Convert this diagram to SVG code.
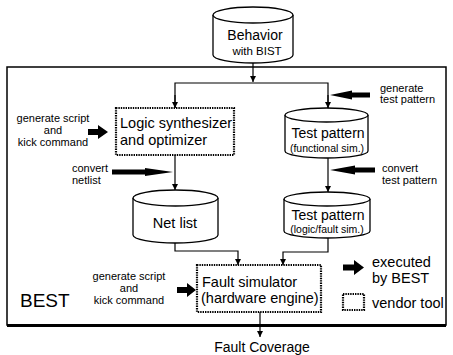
<svg xmlns="http://www.w3.org/2000/svg" width="453" height="355" viewBox="0 0 453 355">
<defs>
<style>
text{font-family:"Liberation Sans",Arial,sans-serif;fill:#000}
.cyl{fill:#fff;stroke:#000;stroke-width:1.3}
.vendor{fill:#fff;stroke:#000;stroke-width:2.2;stroke-dasharray:1.4 1}
.ln{fill:none;stroke:#000;stroke-width:1.2}
.fat{fill:#000;stroke:none}
.s11{font-size:11px}
.s14{font-size:14.5px}
</style>
<marker id="ah" markerWidth="6" markerHeight="8" refX="6" refY="4" orient="auto" markerUnits="userSpaceOnUse">
<path d="M0,1 L6,4 L0,7 Z" fill="#000"/>
</marker>
</defs>
<rect width="453" height="355" fill="#fff"/>

<g id="best-frame">
<rect x="7" y="67" width="439" height="258" fill="none" stroke="#000" stroke-width="1.5"/>
<line x1="7" y1="325.5" x2="446" y2="325.5" stroke="#000" stroke-width="3"/>
<text x="20" y="307" style="font-size:19px">BEST</text>
</g>

<g id="connectors">
<line class="ln" x1="253" y1="63" x2="253" y2="82" marker-end="url(#ah)"/>
<polyline class="ln" points="175,108 175,83 328,83 328,108"/>
<line class="ln" x1="175" y1="95" x2="175" y2="108" marker-end="url(#ah)"/>
<line class="ln" x1="328" y1="95" x2="328" y2="108" marker-end="url(#ah)"/>
<line class="ln" x1="175" y1="155" x2="175" y2="190" marker-end="url(#ah)"/>
<line class="ln" x1="328" y1="158" x2="328" y2="192" marker-end="url(#ah)"/>
<polyline class="ln" points="175,243 175,251 238,251 238,265" marker-end="url(#ah)"/>
<polyline class="ln" points="328,238 328,252 283,252 283,265" marker-end="url(#ah)"/>
<line class="ln" x1="260" y1="312" x2="260" y2="337" marker-end="url(#ah)"/>
</g>

<g id="behavior">
<path class="cyl" d="M213,15 L213,55 A40,8 0 0 0 293,55 L293,15"/>
<ellipse class="cyl" cx="253" cy="15" rx="40" ry="8"/>
<text x="255" y="40" text-anchor="middle" style="font-size:14px">Behavior</text>
<text x="257" y="55" text-anchor="middle" style="font-size:11.5px">with BIST</text>
</g>

<g id="logic-synth">
<rect class="vendor" x="116" y="108" width="118" height="47"/>
<text class="s14" x="120" y="128">Logic synthesizer</text>
<text class="s14" x="120" y="145">and optimizer</text>
</g>

<g id="tp-func">
<path class="cyl" d="M285,115 L285,151 A41.5,7 0 0 0 368,151 L368,115"/>
<ellipse class="cyl" cx="326.5" cy="115" rx="41.5" ry="7"/>
<text x="328" y="138" text-anchor="middle" style="font-size:14px">Test pattern</text>
<text x="327" y="152" text-anchor="middle" style="font-size:10.5px">(functional sim.)</text>
</g>

<g id="net-list">
<path class="cyl" d="M133,198 L133,235 A42.5,8 0 0 0 218,235 L218,198"/>
<ellipse class="cyl" cx="175.5" cy="198" rx="42.5" ry="8"/>
<text x="175" y="228" text-anchor="middle" class="s14">Net list</text>
</g>

<g id="tp-logic">
<path class="cyl" d="M284,199 L284,231 A43,7 0 0 0 370,231 L370,199"/>
<ellipse class="cyl" cx="327" cy="199" rx="43" ry="7"/>
<text x="328" y="220" text-anchor="middle" style="font-size:14px">Test pattern</text>
<text x="327" y="233" text-anchor="middle" style="font-size:10.5px">(logic/fault sim.)</text>
</g>

<g id="fault-sim">
<rect class="vendor" x="197" y="265" width="124" height="47"/>
<text class="s14" x="202" y="287">Fault simulator</text>
<text class="s14" x="201" y="303">(hardware engine)</text>
</g>

<g id="fault-coverage">
<text x="262" y="352" text-anchor="middle" style="font-size:14px">Fault Coverage</text>
</g>

<g id="gen-script-top">
<text class="s11" x="53" y="122" text-anchor="middle">generate script</text>
<text class="s11" x="53" y="134" text-anchor="middle">and</text>
<text class="s11" x="53" y="146" text-anchor="middle">kick command</text>
<path class="fat" d="M88,129 L98,129 L98,125 L108,132 L98,139 L98,135 L88,135 Z"/>
</g>

<g id="convert-netlist">
<text class="s11" x="72" y="172">convert</text>
<text class="s11" x="72" y="184">netlist</text>
<path class="fat" d="M112,169.5 L145,169.5 L145,168 L173,172 L145,176 L145,174.5 L112,174.5 Z"/>
</g>

<g id="gen-test-pattern">
<text class="s11" x="380" y="92">generate</text>
<text class="s11" x="380" y="103">test pattern</text>
<path class="fat" d="M370,92.5 L352,92.5 L352,90.5 L330,95 L352,99.5 L352,97.5 L370,97.5 Z"/>
</g>

<g id="convert-test-pattern">
<text class="s11" x="382" y="172">convert</text>
<text class="s11" x="382" y="184">test pattern</text>
<path class="fat" d="M375,167.5 L355,167.5 L355,165.5 L330,170 L355,174.5 L355,172.5 L375,172.5 Z"/>
</g>

<g id="gen-script-bottom">
<text class="s11" x="129" y="280" text-anchor="middle">generate script</text>
<text class="s11" x="129" y="292" text-anchor="middle">and</text>
<text class="s11" x="129" y="304" text-anchor="middle">kick command</text>
<path class="fat" d="M177,287 L187,287 L187,283 L196,290 L187,297 L187,293 L177,293 Z"/>
</g>

<g id="legend">
<path class="fat" d="M343,264.5 L354,264.5 L354,260 L364,267.5 L354,275 L354,270.5 L343,270.5 Z"/>
<text class="s14" x="372" y="267">executed</text>
<text class="s14" x="372" y="283">by BEST</text>
<rect class="vendor" x="343" y="294" width="21" height="16"/>
<text class="s14" x="372" y="308">vendor tool</text>
</g>
</svg>
